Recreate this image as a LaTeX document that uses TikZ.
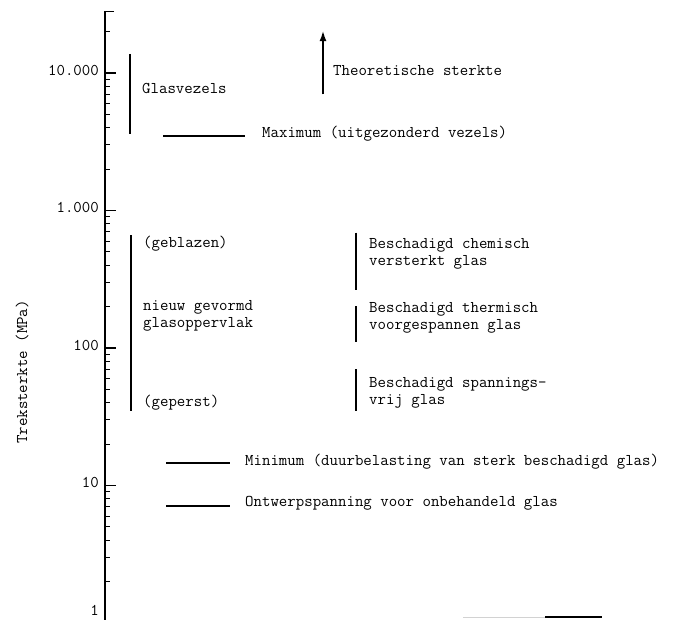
\documentclass[tikz,border=0pt]{standalone}
\usetikzlibrary{arrows.meta}
\begin{document}
\begin{tikzpicture}[x=1pt,y=137.5pt,font=\fontsize{16.4}{17}\selectfont\ttfamily]
      \tikzstyle{range bar}=[line width=2.8pt]
      \tikzstyle{level line}=[line width=1.9pt]
      \tikzstyle{tag}=[anchor=west,inner sep=0pt,align=left]
      \tikzstyle{tick label}=[anchor=east,inner sep=0pt,yshift=3pt]

      \useasboundingbox (0,{4/137.5}) rectangle (685,{623/137.5});

      % axis (values above 10.000 as 4 + log10 of mantissa)
      \coordinate (top) at (105,{4+log10(2.8)});
      \coordinate (bot) at (105,0);
      \draw[line width=1.5pt] ([xshift=9pt]top) -- (top) -- (bot);
      \foreach \d in {1,10,100,1000,10000}
          \draw[line width=1.3pt] (105,{log10(\d)}) -- ++(11,0);
      \foreach \d in {1,10,100,1000}
          \foreach \m in {2,...,9}
              \draw[line width=1pt] (105,{log10(\m*\d)}) -- ++(5,0);
      \draw[line width=1pt] (105,{4+log10(2)}) -- ++(5,0);
      \foreach \d/\t in {10000/10.000,1000/1.000,100/100,10/10}
          \node[tick label] (lab\d) at (99,{log10(\d)}) {\t};
      \node[tick label,yshift=10pt] (lab1) at (99,0) {1};
      \node[rotate=90] (ytitle) at (22,{log10(67)}) {Treksterkte (MPa)};

      % glasvezels en maximum
      \coordinate (gv1) at (130,{log10(13750)});
      \coordinate (gv2) at (130,{log10(3600)});
      \draw[range bar] (gv1) -- (gv2);
      \node[tag] (glasvezels) at (142,{log10(7780)}) {Glasvezels};
      \coordinate (max1) at (163,{log10(3500)});
      \coordinate (max2) at (245,{log10(3500)});
      \draw[level line] (max1) -- (max2);
      \node[tag] (maximum) at (262,{log10(3600)}) {Maximum (uitgezonderd vezels)};

      % theoretische sterkte
      \coordinate (th1) at (323,{log10(7000)});
      \coordinate (th2) at (323,{4+log10(2.05)});
      \draw[line width=2.2pt,-{Latex[length=11pt,width=7pt]}] (th1) -- (th2);
      \node[tag] (theo) at (333,{log10(10350)}) {Theoretische sterkte};

      % nieuw gevormd glasoppervlak
      \coordinate (nw1) at (131,{log10(660)});
      \coordinate (nw2) at (131,{log10(35)});
      \draw[range bar] (nw1) -- (nw2);
      \node[tag] (geblazen) at (143,{log10(570)}) {(geblazen)};
      \node[tag] (nieuw) at (143,{log10(171)}) {nieuw gevormd\\glasoppervlak};
      \node[tag] (geperst) at (143,{log10(40)}) {(geperst)};

      % beschadigd glas
      \coordinate (ch1) at (356,{log10(690)});
      \coordinate (ch2) at (356,{log10(264)});
      \draw[range bar] (ch1) -- (ch2);
      \node[tag] (chemisch) at (369,{log10(483)}) {Beschadigd chemisch\\versterkt glas};
      \coordinate (tm1) at (356,{log10(202)});
      \coordinate (tm2) at (356,{log10(110)});
      \draw[range bar] (tm1) -- (tm2);
      \node[tag] (thermisch) at (369,{log10(165)}) {Beschadigd thermisch\\voorgespannen glas};
      \coordinate (sv1) at (356,{log10(70)});
      \coordinate (sv2) at (356,{log10(35)});
      \draw[range bar] (sv1) -- (sv2);
      \node[tag] (spanningsvrij) at (369,{log10(47)}) {Beschadigd spannings-\\vrij glas};

      % minimum en ontwerpspanning
      \coordinate (min1) at (166,{log10(14.6)});
      \coordinate (min2) at (230,{log10(14.6)});
      \draw[level line] (min1) -- (min2);
      \node[tag] (minimum) at (245,{log10(14.9)}) {Minimum (duurbelasting van sterk beschadigd glas)};
      \coordinate (ow1) at (166,{log10(7.1)});
      \coordinate (ow2) at (230,{log10(7.1)});
      \draw[level line] (ow1) -- (ow2);
      \node[tag] (ontwerp) at (245,{log10(7.4)}) {Ontwerpspanning voor onbehandeld glas};

      % rand onderaan
      \coordinate (rd1) at (463,{log10(1.105)});
      \coordinate (rd2) at (545,{log10(1.105)});
      \coordinate (rd3) at (602,{log10(1.105)});
      \draw[gray!35,line width=1pt] (rd1) -- (rd2);
      \draw[line width=1.2pt] (rd2) -- (rd3);
\end{tikzpicture}
\end{document}
